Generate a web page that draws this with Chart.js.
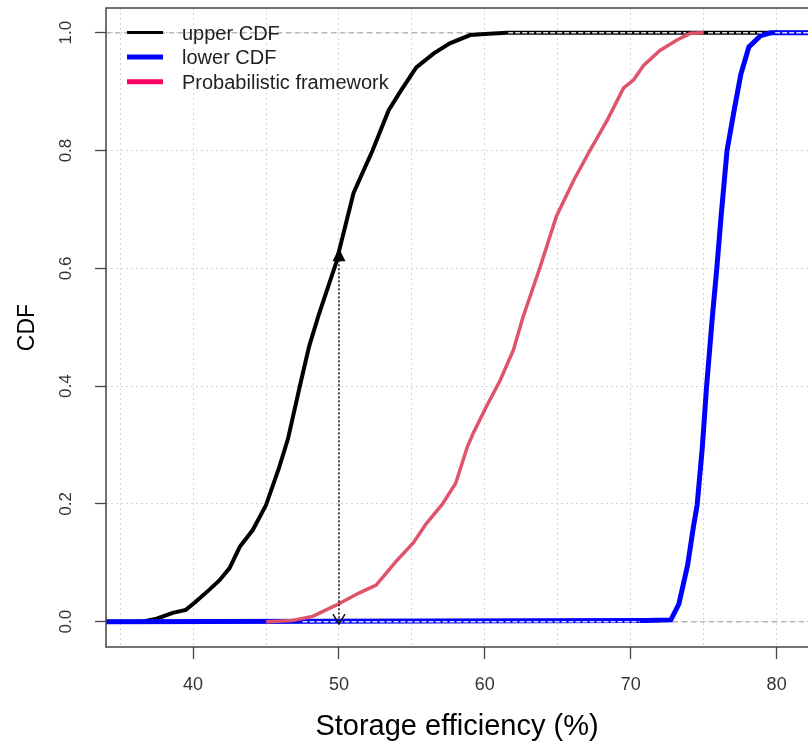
<!DOCTYPE html>
<html>
<head>
<meta charset="utf-8">
<title>CDF - Storage efficiency</title>
<script src="https://cdn.jsdelivr.net/npm/chart.js@4.4.1/dist/chart.umd.min.js"></script>
<style>
  html, body { margin: 0; padding: 0; background: #fff; }
  #wrap { width: 808px; height: 744px; }
</style>
</head>
<body>
<div id="wrap"><canvas id="cdf-chart" width="808" height="744"></canvas></div>
<script>
// legend names
var seriesNames = ["upper CDF", "lower CDF", "Probabilistic framework"];

// upper CDF (black)
var upperX = [34.0, 36.5, 37.5, 38.6, 39.5, 40.1, 41.1, 41.8, 42.5, 43.2, 44.1, 45.0, 45.9, 46.5, 47.3, 47.95,
              48.6, 49.8, 51.0, 52.3, 53.4, 54.2, 55.3, 56.5, 57.6, 59.0, 60.0, 61.5, 82.2];
var upperY = [0, 0, 0.005, 0.015, 0.02, 0.032, 0.054, 0.07, 0.091, 0.127, 0.156, 0.198, 0.262, 0.31, 0.398, 0.467,
              0.52, 0.609, 0.728, 0.80, 0.868, 0.90, 0.941, 0.965, 0.982, 0.996, 0.998, 1.0, 1.0];

// lower CDF (blue)
var lowerX = [34.0, 71.0, 72.75, 73.3, 73.9, 74.3, 74.55, 74.9, 75.2, 75.6, 75.9, 76.2, 76.6, 77.1, 77.55, 78.1, 78.9, 79.6, 82.2];
var lowerY = [0, 0.002, 0.003, 0.03, 0.096, 0.162, 0.198, 0.294, 0.40, 0.519, 0.60, 0.69, 0.80, 0.87, 0.93, 0.976, 0.995, 1.0, 1.0];

// probabilistic framework (red)
var probX = [45.0, 46.8, 48.2, 49.8, 51.4, 52.55, 53.9, 55.1, 56.0, 57.1, 58.0, 58.8, 59.2, 60.1, 61.05, 61.95,
             62.6, 63.8, 64.9, 66.1, 67.2, 68.4, 69.5, 70.2, 70.9, 72.0, 73.2, 74.1, 75.0];
var probY = [0, 0.002, 0.009, 0.028, 0.049, 0.062, 0.102, 0.134, 0.167, 0.20, 0.235, 0.297, 0.32, 0.365, 0.41, 0.461,
             0.516, 0.603, 0.688, 0.75, 0.80, 0.852, 0.906, 0.92, 0.945, 0.97, 0.988, 0.999, 1.0];

// flat stretches where the ecdf points show as hollow (start, end, level)
var hollowStart = [47.5, 61.6, 75.3, 79.9];
var hollowEnd = [70.6, 73.8, 79.0, 82.2];
var hollowLevel = [0, 1, 1, 1];

// axes
var xTicks = [40, 50, 60, 70, 80];
var xGrid = [35, 40, 45, 50, 55, 60, 65, 70, 75, 80];
var yTicks = [0, 0.2, 0.4, 0.6, 0.8, 1.0];
var xRange = [34.03, 82.15];
var yRange = [-0.043, 1.042];
var refLevels = [0, 1];

// arrow at 50 %
var arrowX = 50;
var arrowY = [0.634, -0.004];

function pts(xs, ys) {
	return xs.map(function(x, i) { return { x: x, y: ys[i] }; });
}

var FONT = "'Liberation Sans', Arial, sans-serif";
var legendColors = ["#000000", "#0000ff", "#ff0066"];
var legendWidths = [3, 5, 5];

// reference lines at 0 and 1 (gray dashed)
var refSets = refLevels.map(function(lv) {
	return {
		label: "ref" + lv,
		data: pts(xRange, [lv, lv]),
		borderColor: "#b8b8b8",
		borderWidth: 1.5,
		borderDash: [5, 4],
		order: 9
	};
});

var hollowSets = hollowStart.map(function(x0, i) {
	return {
		label: "hollow" + i,
		data: pts([x0, hollowEnd[i]], [hollowLevel[i], hollowLevel[i]]),
		borderColor: "rgba(255,255,255,0.85)",
		borderWidth: 1.5,
		borderDash: [5, 2],
		order: 2
	};
});

var datasets = [
	{ label: seriesNames[2], data: pts(probX, probY), borderColor: "#df536b", borderWidth: 3.5, order: 1 },
	{ label: seriesNames[1], data: pts(lowerX, lowerY), borderColor: "#0000ff", borderWidth: 5, order: 3 },
	{ label: seriesNames[0], data: pts(upperX, upperY), borderColor: "#000000", borderWidth: 4, order: 4 }
].concat(hollowSets, refSets);

// box round the plot + arrow + legend
var extras = {
	id: 'extras',
	afterDatasetsDraw: function(chart) {
		var ctx = chart.ctx, a = chart.chartArea;
		var xs = chart.scales.x, ys = chart.scales.y;
		ctx.save();

		// box
		ctx.strokeStyle = "#444";
		ctx.lineWidth = 1.5;
		ctx.strokeRect(a.left, a.top, a.right - a.left + 5, a.bottom - a.top);

		// arrow
		var px = xs.getPixelForValue(arrowX);
		var pTop = ys.getPixelForValue(arrowY[0]);
		var pBot = ys.getPixelForValue(arrowY[1]);
		ctx.strokeStyle = "#111";
		ctx.lineWidth = 1.5;
		ctx.setLineDash([2, 2]);
		ctx.beginPath();
		ctx.moveTo(px, pTop + 12);
		ctx.lineTo(px, pBot);
		ctx.stroke();
		ctx.setLineDash([]);
		ctx.fillStyle = "#000";
		ctx.beginPath();
		ctx.moveTo(px, pTop);
		ctx.lineTo(px - 6.5, pTop + 13);
		ctx.lineTo(px + 6.5, pTop + 13);
		ctx.closePath();
		ctx.fill();
		ctx.beginPath();
		ctx.moveTo(px - 6, pBot - 10);
		ctx.lineTo(px, pBot);
		ctx.lineTo(px + 6, pBot - 10);
		ctx.stroke();

		// legend
		ctx.font = "20px " + FONT;
		ctx.textBaseline = "middle";
		ctx.textAlign = "left";
		seriesNames.forEach(function(name, i) {
			var y = a.top + 24.5 + i * 24.6;
			ctx.strokeStyle = legendColors[i];
			ctx.lineWidth = legendWidths[i];
			ctx.beginPath();
			ctx.moveTo(a.left + 21, y);
			ctx.lineTo(a.left + 57, y);
			ctx.stroke();
			ctx.fillStyle = "#222";
			ctx.fillText(name, a.left + 76, y + 1.5);
		});
		ctx.restore();
	}
};

new Chart(document.getElementById("cdf-chart"), {
	type: 'line',
	data: { datasets: datasets },
	options: {
		responsive: false,
		animation: false,
		layout: { padding: { top: 8, left: 0, right: 0, bottom: 0 } },
		plugins: { legend: { display: false }, tooltip: { enabled: false } },
		elements: { point: { radius: 0 }, line: { tension: 0, borderCapStyle: 'butt' } },
		scales: {
			x: {
				type: 'linear',
				min: xRange[0],
				max: xRange[1],
				afterBuildTicks: function(s) { s.ticks = xGrid.map(function(v) { return { value: v }; }); },
				afterFit: function(s) { s.height = 97; s.paddingLeft = 0; s.paddingRight = 0; },
				grid: {
					color: "#d4d4d4",
					lineWidth: 1,
					tickLength: 12,
					tickWidth: 1.3,
					tickColor: function(c) { return (c.tick && xTicks.indexOf(c.tick.value) >= 0) ? "#444" : "rgba(0,0,0,0)"; }
				},
				border: { display: false, dash: [2, 3] },
				ticks: {
					color: "#333",
					font: { family: FONT, size: 18 },
					padding: 15,
					maxRotation: 0,
					callback: function(v) { return xTicks.indexOf(v) >= 0 ? String(v) : ""; }
				},
				title: {
					display: true,
					text: "Storage efficiency (%)",
					color: "#000",
					font: { family: FONT, size: 29 },
					padding: { top: 0, bottom: 0 }
				}
			},
			y: {
				type: 'linear',
				min: yRange[0],
				max: yRange[1],
				afterBuildTicks: function(s) { s.ticks = yTicks.map(function(v) { return { value: v }; }); },
				afterFit: function(s) { s.width = 106; s.paddingTop = 0; s.paddingBottom = 0; },
				grid: {
					color: "#d4d4d4",
					lineWidth: 1,
					tickLength: 11,
					tickWidth: 1.3,
					tickColor: "#444"
				},
				border: { display: false, dash: [2, 3] },
				ticks: {
					color: "#333",
					font: { family: FONT, size: 17 },
					padding: 17,
					minRotation: 90,
					maxRotation: 90,
					crossAlign: 'center',
					callback: function(v) { return v.toFixed(1); }
				},
				title: {
					display: true,
					text: "CDF",
					color: "#000",
					font: { family: FONT, size: 23 },
					padding: { top: 14, bottom: 0 }
				}
			}
		}
	},
	plugins: [extras]
});
</script>
</body>
</html>
